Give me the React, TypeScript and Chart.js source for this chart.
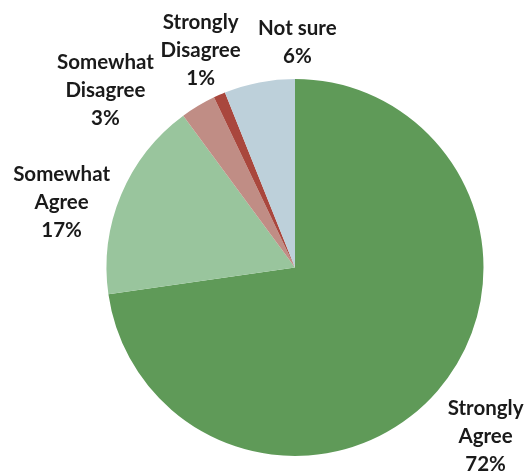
import React, { useEffect, useRef } from "react";
import { Chart, registerables } from "chart.js";

Chart.register(...registerables);

const categories = ["Strongly Agree", "Somewhat Agree", "Somewhat Disagree", "Strongly Disagree", "Not sure"];
const values = [72, 17, 3, 1, 6];
const labelLines = [
  ["Strongly", "Agree", "72%"],
  ["Somewhat", "Agree", "17%"],
  ["Somewhat", "Disagree", "3%"],
  ["Strongly", "Disagree", "1%"],
  ["Not sure", "6%"],
];
const sliceColors = ["#5f9a58", "#99c59d", "#c08d85", "#a9473d", "#bdd0da"];

// label placement (layout only): angle in degrees clockwise from top, radius as a factor of the pie radius
const labelAngles = [131.5, 285.5, 313, 336.5, 0.6];
const labelRadius = [1.35, 1.285, 1.375, 1.255, 1.195];

const labelPlugin = {
  id: "outerLabels",
  afterDatasetsDraw(chart: any) {
    const meta = chart.getDatasetMeta(0);
    const ctx = chart.ctx;
    ctx.save();
    ctx.font = "bold 20.5px Lato, 'Open Sans', sans-serif";
    ctx.fillStyle = "#1a1a1a";
    ctx.textAlign = "center";
    ctx.textBaseline = "middle";
    meta.data.forEach((arc: any, i: number) => {
      const { x, y, outerRadius } = arc.getProps(["x", "y", "outerRadius"], true);
      const a = (labelAngles[i] * Math.PI) / 180;
      const r = outerRadius * labelRadius[i];
      const cx = x + r * Math.sin(a);
      const cy = y - r * Math.cos(a);
      const lines = labelLines[i];
      const lh = 28;
      const start = cy - ((lines.length - 1) * lh) / 2;
      lines.forEach((t, j) => ctx.fillText(t, cx, start + j * lh));
    });
    ctx.restore();
  },
};

export default function App() {
  const ref = useRef<HTMLCanvasElement>(null);
  useEffect(() => {
    const chart = new Chart(ref.current!, {
      type: "pie",
      data: {
        labels: categories,
        datasets: [
          {
            data: values,
            backgroundColor: sliceColors,
            borderWidth: 0,
          },
        ],
      },
      options: {
        animation: false,
        responsive: false,
        layout: { padding: { left: 105, right: 45, top: 79, bottom: 20 } },
        plugins: { legend: { display: false }, tooltip: { enabled: false } },
      },
      plugins: [labelPlugin],
    });
    return () => chart.destroy();
  }, []);
  return (
    <div style={{ position: "absolute", left: 0, top: 0, width: 530, height: 476, background: "#fff" }}>
      <canvas ref={ref} width={530} height={476} />
    </div>
  );
}
